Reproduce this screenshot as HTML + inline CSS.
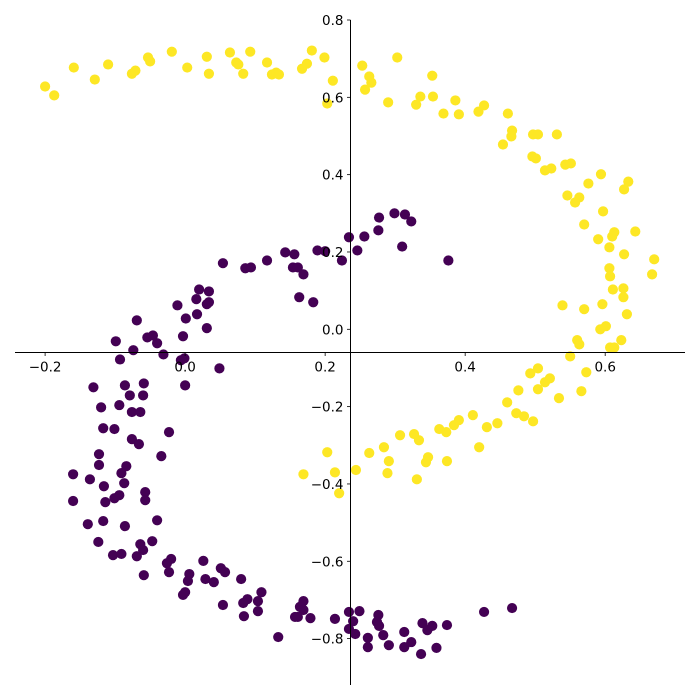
<!DOCTYPE html>
<html><head><meta charset="utf-8"><style>
html,body{margin:0;padding:0;background:#fff;}
svg{display:block;}
text{font-family:"DejaVu Sans","Liberation Sans",sans-serif;font-size:13.5px;fill:#000;}
</style></head><body>
<svg id="chart" width="700" height="700" viewBox="0 0 700 700" xmlns="http://www.w3.org/2000/svg">
<rect width="700" height="700" fill="#fff"/>
<g id="points"></g>
<g id="axes"></g>
</svg>
<script>
const xTicks = [-0.2, 0.0, 0.2, 0.4, 0.6];
const xTickLabels = ["\u22120.2", "0.0", "0.2", "0.4", "0.6"];
const yTicks = [0.8, 0.6, 0.4, 0.2, 0.0, -0.2, -0.4, -0.6, -0.8];
const yTickLabels = ["0.8", "0.6", "0.4", "0.2", "0.0", "\u22120.2", "\u22120.4", "\u22120.6", "\u22120.8"];
const yellowX = [-0.200,-0.187,-0.159,-0.129,-0.110,-0.076,-0.071,-0.053,-0.050,-0.019,0.003,0.031,0.034,0.064,0.073,0.076,0.083,0.093,0.117,0.124,0.130,0.134,0.167,0.174,0.181,0.199,0.211,0.203,0.253,0.303,0.263,0.266,0.257,0.290,0.353,0.336,0.354,0.330,0.386,0.369,0.391,0.419,0.427,0.461,0.467,0.466,0.454,0.497,0.504,0.531,0.496,0.501,0.514,0.523,0.543,0.551,0.594,0.576,0.633,0.627,0.546,0.563,0.557,0.597,0.570,0.613,0.610,0.643,0.590,0.606,0.627,0.670,0.606,0.607,0.667,0.611,0.626,0.626,0.631,0.596,0.570,0.539,0.601,0.593,0.623,0.607,0.613,0.560,0.563,0.550,0.573,0.493,0.504,0.514,0.521,0.504,0.476,0.534,0.566,0.460,0.473,0.484,0.497,0.411,0.446,0.431,0.391,0.384,0.373,0.363,0.420,0.327,0.334,0.307,0.284,0.263,0.291,0.347,0.344,0.374,0.331,0.289,0.203,0.244,0.214,0.169,0.220];
const yellowY = [0.628,0.605,0.677,0.646,0.685,0.661,0.669,0.703,0.693,0.718,0.677,0.705,0.661,0.716,0.690,0.685,0.661,0.718,0.690,0.659,0.664,0.659,0.674,0.687,0.721,0.703,0.643,0.584,0.682,0.703,0.654,0.638,0.620,0.587,0.656,0.602,0.602,0.581,0.592,0.558,0.556,0.563,0.579,0.558,0.514,0.499,0.478,0.504,0.504,0.504,0.447,0.442,0.411,0.416,0.426,0.429,0.401,0.377,0.382,0.362,0.346,0.341,0.328,0.305,0.271,0.251,0.240,0.253,0.233,0.212,0.194,0.181,0.158,0.137,0.142,0.103,0.106,0.083,0.039,0.065,0.052,0.062,0.008,0.000,-0.028,-0.047,-0.047,-0.028,-0.039,-0.070,-0.111,-0.114,-0.101,-0.137,-0.127,-0.155,-0.158,-0.178,-0.160,-0.189,-0.217,-0.225,-0.238,-0.222,-0.243,-0.253,-0.235,-0.248,-0.266,-0.258,-0.305,-0.271,-0.287,-0.274,-0.305,-0.320,-0.341,-0.331,-0.344,-0.341,-0.388,-0.372,-0.318,-0.364,-0.370,-0.375,-0.424];
const purpleX = [-0.099,-0.093,-0.074,-0.069,-0.054,-0.046,-0.040,-0.031,-0.011,-0.006,-0.001,-0.003,0.001,0.016,0.020,0.017,0.031,0.031,0.034,0.034,0.049,0.054,0.086,0.094,0.117,0.143,0.156,0.154,0.161,0.169,0.163,0.183,0.189,0.200,0.224,0.234,0.246,0.256,0.276,0.277,0.299,0.314,0.323,0.310,0.376,-0.131,-0.086,-0.059,0.000,-0.079,-0.060,-0.120,-0.094,-0.076,-0.064,-0.117,-0.101,-0.023,-0.076,-0.066,-0.123,-0.034,-0.123,-0.084,-0.160,-0.136,-0.091,-0.087,-0.116,-0.057,-0.094,-0.101,-0.057,-0.160,-0.114,-0.139,-0.117,-0.086,-0.040,-0.124,-0.064,-0.047,-0.060,-0.103,-0.091,-0.069,-0.020,-0.026,0.026,-0.023,-0.059,0.051,0.057,0.006,0.004,0.029,0.041,0.080,0.109,0.000,-0.003,0.089,0.083,0.104,0.054,0.104,0.084,0.157,0.164,0.133,0.169,0.169,0.161,0.179,0.214,0.234,0.249,0.240,0.234,0.243,0.261,0.261,0.276,0.274,0.277,0.283,0.291,0.313,0.313,0.323,0.339,0.346,0.353,0.337,0.359,0.374,0.427,0.467];
const purpleY = [-0.031,-0.078,-0.054,0.023,-0.021,-0.016,-0.036,-0.065,0.062,-0.080,-0.075,-0.018,0.028,0.078,0.103,0.039,0.003,0.065,0.070,0.098,-0.101,0.171,0.158,0.160,0.178,0.199,0.194,0.160,0.160,0.142,0.083,0.070,0.204,0.202,0.178,0.238,0.204,0.240,0.256,0.289,0.300,0.297,0.279,0.214,0.178,-0.150,-0.145,-0.140,-0.145,-0.171,-0.171,-0.202,-0.196,-0.214,-0.214,-0.256,-0.258,-0.266,-0.284,-0.297,-0.323,-0.328,-0.351,-0.354,-0.375,-0.388,-0.372,-0.398,-0.406,-0.421,-0.429,-0.437,-0.442,-0.444,-0.447,-0.504,-0.496,-0.509,-0.494,-0.550,-0.556,-0.548,-0.571,-0.584,-0.581,-0.587,-0.594,-0.605,-0.599,-0.628,-0.636,-0.618,-0.628,-0.633,-0.651,-0.646,-0.654,-0.646,-0.680,-0.680,-0.687,-0.698,-0.708,-0.703,-0.713,-0.729,-0.742,-0.744,-0.718,-0.796,-0.703,-0.726,-0.744,-0.747,-0.749,-0.731,-0.729,-0.755,-0.775,-0.788,-0.798,-0.822,-0.739,-0.757,-0.767,-0.791,-0.817,-0.783,-0.822,-0.809,-0.760,-0.778,-0.767,-0.840,-0.824,-0.765,-0.731,-0.721];

const NS = "http://www.w3.org/2000/svg";
const X0 = 15, X1 = 685, Y0 = 20, Y1 = 685;
const xMin = -0.243, xMax = 0.714, yMin = -0.92, yMax = 0.8;
function sx(v){ return X0 + (v - xMin) / (xMax - xMin) * (X1 - X0); }
function sy(v){ return Y1 - (v - yMin) / (yMax - yMin) * (Y1 - Y0); }
function mk(tag, attrs){ const e = document.createElementNS(NS, tag); for (const k in attrs) e.setAttribute(k, attrs[k]); return e; }

const pts = document.getElementById('points');
function drawSeries(xs, ys, color, name){
  for (let i = 0; i < xs.length; i++){
    const c = mk('circle', {cx: sx(xs[i]), cy: sy(ys[i]), r: 5.1, fill: color});
    
    
    pts.appendChild(c);
  }
}
drawSeries(purpleX, purpleY, '#440154', 'point-class-0');
drawSeries(yellowX, yellowY, '#fde725', 'point-class-1');

const ax = document.getElementById('axes');
const spineX = 350.5, spineY = 352.5;
const xs = mk('line', {x1: X0, x2: X1, y1: spineY, y2: spineY, stroke: '#000', 'stroke-width': 1});


ax.appendChild(xs);
const ys = mk('line', {x1: spineX, x2: spineX, y1: Y0, y2: Y1, stroke: '#000', 'stroke-width': 1});


ax.appendChild(ys);

xTicks.forEach((v, i) => {
  const x = sx(v);
  const t = mk('line', {x1: x, x2: x, y1: spineY, y2: spineY + 3.5, stroke: '#000', 'stroke-width': 0.8});
  
  
  ax.appendChild(t);
  const l = mk('text', {x: x, y: spineY + 19, 'text-anchor': 'middle'});
  l.textContent = xTickLabels[i];
  
  
  ax.appendChild(l);
});
yTicks.forEach((v, i) => {
  const y = sy(v);
  const t = mk('line', {x1: spineX - 3.5, x2: spineX, y1: y, y2: y, stroke: '#000', 'stroke-width': 0.8});
  
  
  ax.appendChild(t);
  const l = mk('text', {x: spineX - 7, y: y + 5, 'text-anchor': 'end'});
  l.textContent = yTickLabels[i];
  
  
  ax.appendChild(l);
});
</script>
</body></html>
